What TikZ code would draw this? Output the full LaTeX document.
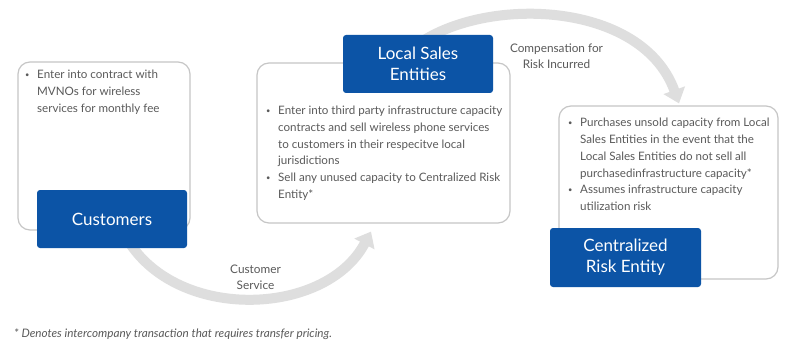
\documentclass[tikz,border=0pt]{standalone}
\usepackage{fontspec}
\setmainfont{Lato}
\usetikzlibrary{arrows.meta}
\definecolor{boxblue}{RGB}{12,84,166}
\definecolor{arrowgray}{RGB}{222,222,222}
\definecolor{bordergray}{RGB}{198,198,198}
\definecolor{textgray}{RGB}{90,90,90}
\newcommand{\bul}{\makebox[12pt][l]{\raisebox{0.25ex}{\fontsize{7.5}{7.5}\selectfont\textbullet}}}
\pgfdeclarelayer{bg}
\pgfsetlayers{bg,main}
\begin{document}
\begin{tikzpicture}[x=1pt,y=-1pt,
  panel/.style={draw=bordergray, line width=1.2pt, rounded corners=12pt, fill=white, inner sep=0},
  titlebox/.style={fill=boxblue, rounded corners=3pt, text=white, font=\fontsize{17}{21}\selectfont, align=center, inner sep=0},
  bodytext/.style={text=textgray, font=\fontsize{11.6}{16.8}\selectfont, inner sep=0, anchor=base west},
  flow/.style={draw=arrowgray, line width=10pt, -{Triangle[width=22pt,length=14pt]}},
  flowlabel/.style={text=textgray, font=\fontsize{11.8}{16}\selectfont, align=center, inner sep=0},
  note/.style={text=textgray, font=\fontsize{11.7}{13}\selectfont\itshape, inner sep=0, anchor=base west}
]
\useasboundingbox (0,0) rectangle (800,342);

% panels
\node[panel, minimum width=172pt, minimum height=168pt] (cp) at (104,146) {};
\node[panel, minimum width=253pt, minimum height=160pt] (lp) at (383.5,143) {};
\node[panel, minimum width=219pt, minimum height=173pt] (rp) at (668.5,192.5) {};

% title boxes
\node[titlebox, minimum width=150pt, minimum height=58pt] (cust) at (112,219) {Customers};
\node[titlebox, minimum width=150pt, minimum height=58pt] (lst) at (418,64) {Local Sales\\Entities};
\node[titlebox, minimum width=151pt, minimum height=59pt] (crt) at (625.5,257.5) {Centralized\\Risk Entity};

% flows behind everything
\coordinate (a1s) at ([shift={(13,-13)}]cust.south);
\coordinate (a1e) at ([shift={(-12.5,8)}]lp.south);
\coordinate (a2s) at ([shift={(-13,-9)}]lst.center);
\coordinate (a2e) at ([shift={(10.5,-2)}]rp.north);
\begin{pgfonlayer}{bg}
\fill[white] (0,0) rectangle (800,342);
\draw[flow] (a1s) .. controls (172,322) and (325,318) .. (a1e);
\draw[flow] (a2s) .. controls (465,-5) and (640,-5) .. (a2e);
\end{pgfonlayer}

% body texts
\node[bodytext] (ct) at (25,79) {\begin{tabular}[t]{@{}l@{}l@{}}
\bul & Enter into contract with\\
 & MVNOs for wireless\\
 & services for monthly fee
\end{tabular}};
\node[bodytext] (lt) at (266,114.5) {\begin{tabular}[t]{@{}l@{}l@{}}
\bul & Enter into third party infrastructure capacity\\
 & contracts and sell wireless phone services\\
 & to customers in their respecitve local\\
 & jurisdictions\\
\bul & Sell any unused capacity to Centralized Risk\\
 & Entity*
\end{tabular}};
\node[bodytext] (rt) at (568,126.7) {\begin{tabular}[t]{@{}l@{}l@{}}
\bul & Purchases unsold capacity from Local\\
 & Sales Entities in the event that the\\
 & Local Sales Entities do not sell all\\
 & purchasedinfrastructure capacity*\\
\bul & Assumes infrastructure capacity\\
 & utilization risk
\end{tabular}};

% flow labels
\node[flowlabel] (l1) at (255.5,277) {Customer\\Service};
\node[flowlabel] (l2) at (556.5,56) {Compensation for\\Risk Incurred};

% footnote
\node[note] (fn) at (14,337) {* Denotes intercompany transaction that requires transfer pricing.};
\end{tikzpicture}
\end{document}
